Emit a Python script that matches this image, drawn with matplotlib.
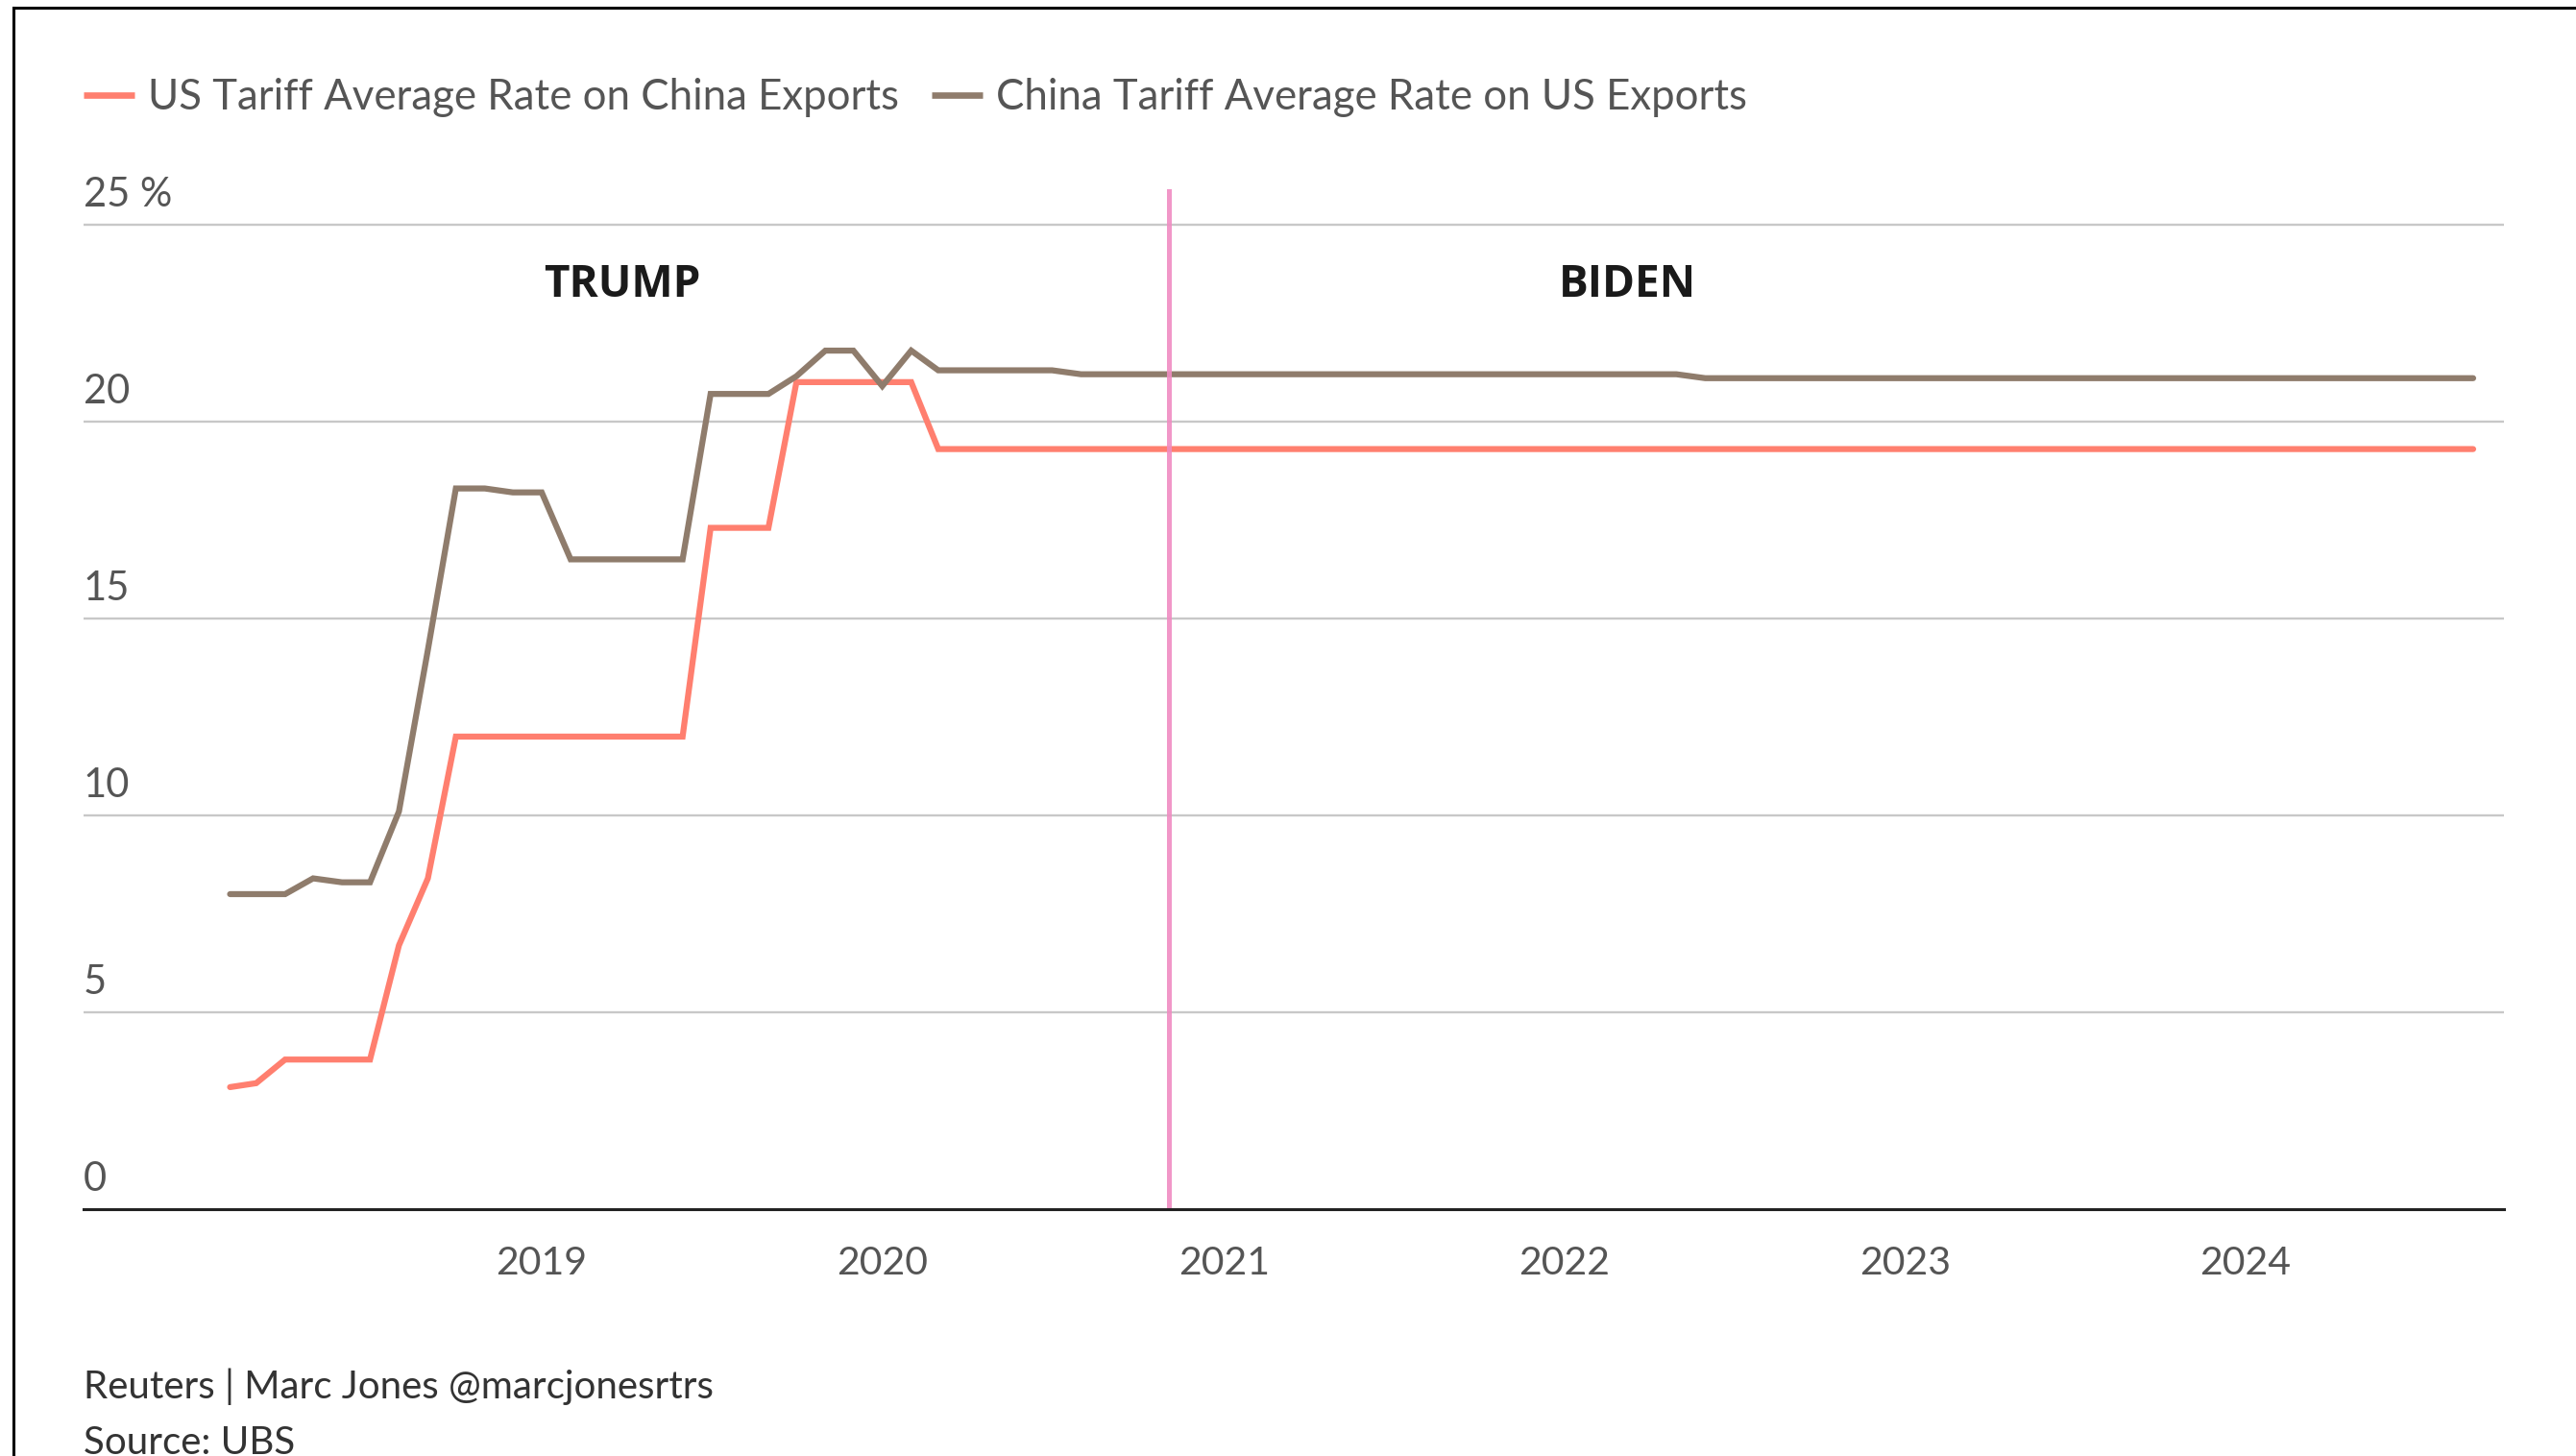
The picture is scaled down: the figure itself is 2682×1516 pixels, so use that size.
import numpy as np
import pandas as pd
import matplotlib
matplotlib.use("Agg")
import matplotlib.pyplot as plt
from matplotlib.lines import Line2D

# ---- data (monthly average tariff rates, %) ----
months = pd.date_range("2018-02-01", "2024-09-01", freq="MS")

us_rate = [
    3.1, 3.2, 3.8, 3.8, 3.8, 3.8, 6.7, 8.4, 12.0, 12.0, 12.0,                 # 2018
    12.0, 12.0, 12.0, 12.0, 12.0, 12.0, 17.3, 17.3, 17.3, 21.0, 21.0, 21.0,  # 2019
    21.0, 21.0, 19.3, 19.3, 19.3, 19.3, 19.3, 19.3, 19.3, 19.3, 19.3, 19.3,  # 2020
    19.3, 19.3, 19.3, 19.3, 19.3, 19.3, 19.3, 19.3, 19.3, 19.3, 19.3, 19.3,  # 2021
    19.3, 19.3, 19.3, 19.3, 19.3, 19.3, 19.3, 19.3, 19.3, 19.3, 19.3, 19.3,  # 2022
    19.3, 19.3, 19.3, 19.3, 19.3, 19.3, 19.3, 19.3, 19.3, 19.3, 19.3, 19.3,  # 2023
    19.3, 19.3, 19.3, 19.3, 19.3, 19.3, 19.3, 19.3, 19.3,                    # 2024
]

china_rate = [
    8.0, 8.0, 8.0, 8.4, 8.3, 8.3, 10.1, 14.2, 18.3, 18.3, 18.2,              # 2018
    18.2, 16.5, 16.5, 16.5, 16.5, 16.5, 20.7, 20.7, 20.7, 21.15, 21.8, 21.8, # 2019
    20.9, 21.8, 21.3, 21.3, 21.3, 21.3, 21.3, 21.2, 21.2, 21.2, 21.2, 21.2,  # 2020
    21.2, 21.2, 21.2, 21.2, 21.2, 21.2, 21.2, 21.2, 21.2, 21.2, 21.2, 21.2,  # 2021
    21.2, 21.2, 21.2, 21.2, 21.2, 21.1, 21.1, 21.1, 21.1, 21.1, 21.1, 21.1,  # 2022
    21.1, 21.1, 21.1, 21.1, 21.1, 21.1, 21.1, 21.1, 21.1, 21.1, 21.1, 21.1,  # 2023
    21.1, 21.1, 21.1, 21.1, 21.1, 21.1, 21.1, 21.1, 21.1,                    # 2024
]

series_labels = ["US Tariff Average Rate on China Exports",
                 "China Tariff Average Rate on US Exports"]

election_day = pd.Timestamp("2020-11-03")
eras = ["TRUMP", "BIDEN"]
era_x = [pd.Timestamp("2019-03-28"), pd.Timestamp("2022-03-10")]

y_ticks = [0, 5, 10, 15, 20, 25]
y_labels = ["0", "5", "10", "15", "20", "25 %"]
years = [2019, 2020, 2021, 2022, 2023, 2024]

RED = "#ff7f6f"
BROWN = "#8f7c6c"
PINK = "#f08cc2"
GRID = "#c8c8c8"
TEXT = "#555555"

plt.rcParams["font.family"] = ["Lato", "DejaVu Sans"]

fig = plt.figure(figsize=(26.82, 15.16), dpi=100)
ax = fig.add_axes([0.03244, 0.1695, 0.9396, 0.7006])

l_us, = ax.plot(months, us_rate, color=RED, lw=4.5, solid_joinstyle="miter",
                solid_capstyle="round", zorder=3)
l_cn, = ax.plot(months, china_rate, color=BROWN, lw=4.5, solid_joinstyle="miter",
                solid_capstyle="round", zorder=3)
ax.axvline(election_day, color=PINK, lw=3.6, alpha=0.9, zorder=4)

ax.set_ylim(0, 25.9)
ax.set_xlim(pd.Timestamp("2017-08-28"), pd.Timestamp("2024-10-04"))

# grid + custom y labels sitting above the lines
ax.set_yticks(y_ticks)
ax.yaxis.grid(True, color=GRID, lw=1.7)
ax.tick_params(axis="y", length=0, labelleft=False)
for v, lab in zip(y_ticks, y_labels):
    ax.text(0, v + 0.3, lab, transform=ax.get_yaxis_transform(), ha="left",
            va="bottom", fontsize=30, color=TEXT)

ax.set_xticks([pd.Timestamp(f"{y}-01-01") for y in years])
ax.set_xticklabels([str(y) for y in years], fontsize=29.5, color=TEXT)
ax.tick_params(axis="x", length=0, pad=27)

for s in ["top", "right", "left"]:
    ax.spines[s].set_visible(False)
ax.spines["bottom"].set_color("#222222")
ax.spines["bottom"].set_linewidth(2.2)
ax.spines["bottom"].set_zorder(5)

for name, x in zip(eras, era_x):
    ax.text(x, 23.47, name, ha="center", va="center", fontsize=33,
            fontweight="bold", family="Open Sans", color="#1a1a1a")

leg = ax.legend([l_us, l_cn], series_labels, ncol=2, loc="center left",
                bbox_to_anchor=(0.03244, 1 - 102 / 1516),
                bbox_transform=fig.transFigure, frameon=False, fontsize=31.5,
                handlelength=1.2, handletextpad=0.33, columnspacing=0.78,
                borderpad=0, borderaxespad=0)
for t in leg.get_texts():
    t.set_color(TEXT)
for h in leg.legend_handles:
    h.set_linewidth(4.8)
    h.set_solid_capstyle("butt")

fig.text(0.03244, 1 - 1444 / 1516, "Reuters | Marc Jones @marcjonesrtrs",
         fontsize=29, color="#333333", va="center", ha="left")
fig.text(0.03244, 1 - 1502 / 1516, "Source: UBS",
         fontsize=29, color="#333333", va="center", ha="left")

# frame edges of the panel
fig.add_artist(Line2D([14 / 2682, 1], [1 - 7.5 / 1516] * 2, color="black", lw=2.2))
fig.add_artist(Line2D([14 / 2682] * 2, [0, 1 - 7.5 / 1516], color="black", lw=2.2))

fig.savefig("out.png", dpi=100, facecolor="white")
